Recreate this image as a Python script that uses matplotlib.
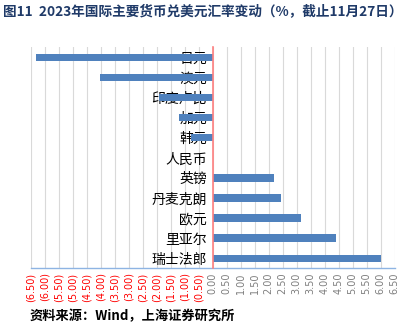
import matplotlib
matplotlib.use("Agg")
import matplotlib.pyplot as plt
import numpy as np

plt.rcParams['font.family'] = ['Noto Sans CJK SC', 'DejaVu Sans']

categories = ["日元", "澳元", "印度卢比", "加元", "韩元", "人民币", "英镑", "丹麦克朗", "欧元", "里亚尔", "瑞士法郎"]
values = [-6.32, -4.04, -1.91, -1.20, -0.78, 0.0, 2.19, 2.45, 3.14, 4.39, 6.01]
tick_values = np.arange(-6.5, 6.51, 0.5)
tick_labels = [f"({abs(v):.2f})" if v < -1e-9 else f"{abs(v):.2f}" for v in tick_values]

fig = plt.figure(figsize=(4.15, 3.25), dpi=100)
ax = fig.add_axes([0.074, 0.1745, 0.877, 0.68])

y = np.arange(len(categories))
ax.barh(y, values, height=0.37, color="#4F81BD", zorder=3)
ax.set_ylim(len(categories) - 0.5, -0.5)
ax.set_xlim(-6.5, 6.5)

ax.set_xticks(tick_values)
ax.set_xticklabels(tick_labels, rotation=90, fontsize=7, family=['DejaVu Sans'])
for lbl, v in zip(ax.get_xticklabels(), tick_values):
    lbl.set_color("#FF0000" if v < -1e-9 else "#7F7F7F")
ax.tick_params(axis='x', length=0, pad=3)

ax.set_yticks(y)
ax.set_yticklabels(categories, fontsize=8.5, color="#7A7A7A")
ax.tick_params(axis='y', length=0, pad=4)

ax.grid(axis='x', color="#D9D9D9", linewidth=0.8, zorder=0)
ax.set_axisbelow(True)

for s in ['top', 'right']:
    ax.spines[s].set_visible(False)
ax.spines['left'].set_position(('data', 0))
ax.spines['left'].set_color("#FF8080")
ax.spines['left'].set_linewidth(1.2)
ax.spines['left'].set_zorder(4)
ax.spines['bottom'].set_color("#8EB4E3")
ax.spines['bottom'].set_linewidth(1.0)

fig.text(0.008, 0.965, "图11  2023年国际主要货币兑美元汇率变动（%，截止11月27日）",
         fontsize=9.8, fontweight='bold', color="#1F3A68", va='center', ha='left')
fig.text(0.072, 0.006, "资料来源：Wind，上海证券研究所", fontsize=9.5, fontweight='bold',
         fontstyle='italic', color="#000000", va='bottom', ha='left')

fig.savefig("out.png", dpi=100)
